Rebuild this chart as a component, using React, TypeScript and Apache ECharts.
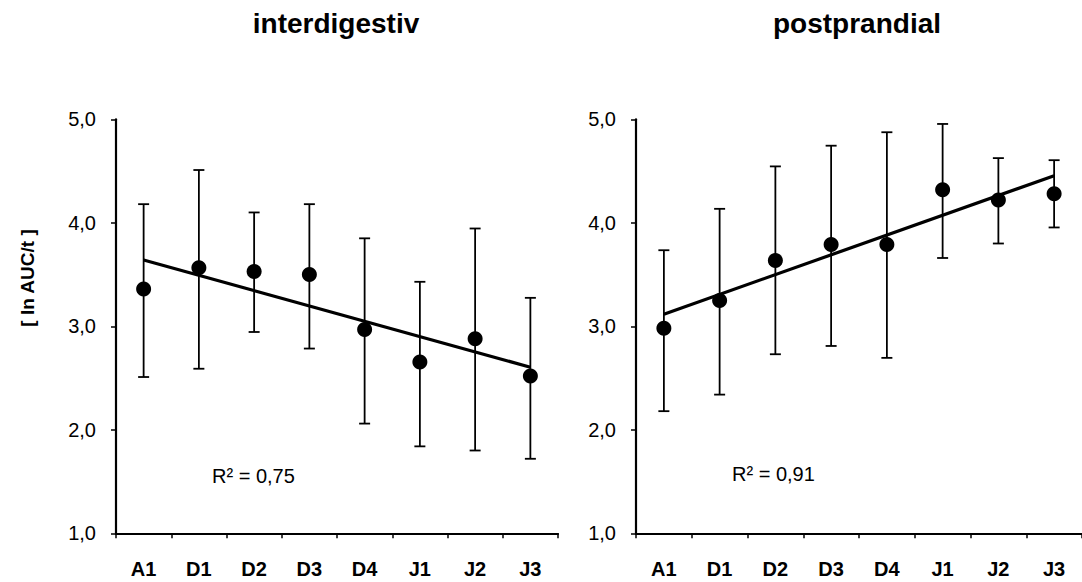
import React, { useEffect, useRef } from "react";
import * as echarts from "echarts";

const categories = ["A1", "D1", "D2", "D3", "D4", "J1", "J2", "J3"];
const yTicks = [1, 2, 3, 4, 5];

// interdigestiv
const interMean = [3.36, 3.565, 3.53, 3.5, 2.97, 2.655, 2.88, 2.52];
const interHigh = [4.18, 4.51, 4.1, 4.18, 3.85, 3.43, 3.945, 3.275];
const interLow = [2.51, 2.59, 2.945, 2.785, 2.06, 1.84, 1.8, 1.72];
const interTrend = [3.64, 2.605]; // trend line at A1 and J3
const interR2 = "R² = 0,75";

// postprandial
const postMean = [2.98, 3.25, 3.635, 3.79, 3.79, 4.32, 4.22, 4.28];
const postHigh = [3.735, 4.135, 4.545, 4.745, 4.875, 4.955, 4.625, 4.605];
const postLow = [2.18, 2.34, 2.73, 2.81, 2.695, 3.66, 3.8, 3.955];
const postTrend = [3.117, 4.455];
const postR2 = "R² = 0,91";

const titles = ["interdigestiv", "postprandial"];
const yLabel = "[ ln AUC/t ]";

const FONT = "'Liberation Sans', Arial, Helvetica, sans-serif";

function errorBars(low: number[], high: number[], idx: number) {
  return {
    type: "custom",
    xAxisIndex: idx,
    yAxisIndex: idx,
    z: 2,
    data: low.map((l, i) => [i, l, high[i]]),
    encode: { x: 0, y: [1, 2] },
    renderItem: (params: any, api: any) => {
      const x = api.value(0);
      const lo = api.coord([x, api.value(1)]);
      const hi = api.coord([x, api.value(2)]);
      const h = 5.5;
      const st = { stroke: "#000", lineWidth: 1.8 };
      return {
        type: "group",
        children: [
          { type: "line", shape: { x1: lo[0], y1: lo[1], x2: hi[0], y2: hi[1] }, style: st },
          { type: "line", shape: { x1: hi[0] - h, y1: hi[1], x2: hi[0] + h, y2: hi[1] }, style: st },
          { type: "line", shape: { x1: lo[0] - h, y1: lo[1], x2: lo[0] + h, y2: lo[1] }, style: st },
        ],
      };
    },
  };
}

function xAxis(idx: number) {
  return {
    type: "category",
    gridIndex: idx,
    data: categories,
    boundaryGap: true,
    axisLine: { show: true, lineStyle: { color: "#000", width: 2.2 } },
    axisTick: { show: true, length: 5, alignWithLabel: false, lineStyle: { color: "#000", width: 1.5 } },
    axisLabel: { color: "#000", fontSize: 20, fontWeight: "bold", fontFamily: FONT, margin: 26 },
    splitLine: { show: false },
  };
}

function yAxis(idx: number) {
  return {
    type: "value",
    gridIndex: idx,
    min: yTicks[0],
    max: yTicks[yTicks.length - 1],
    interval: 1,
    axisLine: { show: true, lineStyle: { color: "#000", width: 2.2 } },
    axisTick: { show: true, length: 5, lineStyle: { color: "#000", width: 1.5 } },
    axisLabel: {
      color: "#000",
      fontSize: 20,
      fontFamily: FONT,
      margin: 20,
      formatter: (v: number) => v.toFixed(1).replace(".", ","),
    },
    splitLine: { show: false },
  };
}

function scatter(data: number[], idx: number) {
  return {
    type: "scatter",
    xAxisIndex: idx,
    yAxisIndex: idx,
    z: 4,
    symbolSize: 15,
    data,
    itemStyle: { color: "#000", opacity: 1 },
    emphasis: { disabled: true },
  };
}

function trend(t: number[], idx: number) {
  return {
    type: "line",
    xAxisIndex: idx,
    yAxisIndex: idx,
    z: 3,
    symbol: "none",
    data: [[0, t[0]], [categories.length - 1, t[1]]],
    lineStyle: { color: "#000", width: 3.2 },
  };
}

export default function App() {
  const ref = useRef<HTMLDivElement>(null);
  useEffect(() => {
    document.body.style.margin = "0";
    if (!ref.current) return;
    const chart = echarts.init(ref.current, null, { renderer: "svg" });
    chart.setOption({
      animation: false,
      backgroundColor: "#fff",
      grid: [
        { left: 116, top: 119.3, width: 442, height: 414, containLabel: false },
        { left: 636, top: 119.3, width: 448, height: 414, containLabel: false },
      ],
      xAxis: [xAxis(0), xAxis(1)],
      yAxis: [yAxis(0), yAxis(1)],
      series: [
        errorBars(interLow, interHigh, 0),
        errorBars(postLow, postHigh, 1),
        trend(interTrend, 0),
        trend(postTrend, 1),
        scatter(interMean, 0),
        scatter(postMean, 1),
      ],
      graphic: [
        {
          type: "text",
          x: 336,
          y: 23.5,
          style: { text: titles[0], fill: "#000", font: `bold 28px ${FONT}`, align: "center", verticalAlign: "middle" },
        },
        {
          type: "text",
          x: 857,
          y: 23.5,
          style: { text: titles[1], fill: "#000", font: `bold 28px ${FONT}`, align: "center", verticalAlign: "middle" },
        },
        {
          type: "text",
          x: 27,
          y: 278,
          rotation: Math.PI / 2,
          style: { text: yLabel, fill: "#000", font: `bold 19px ${FONT}`, align: "center", verticalAlign: "middle" },
        },
        {
          type: "text",
          x: 212,
          y: 476,
          style: { text: interR2, fill: "#000", font: `20px ${FONT}`, align: "left", verticalAlign: "middle" },
        },
        {
          type: "text",
          x: 732,
          y: 474,
          style: { text: postR2, fill: "#000", font: `20px ${FONT}`, align: "left", verticalAlign: "middle" },
        },
      ],
    });
    return () => chart.dispose();
  }, []);
  return <div ref={ref} style={{ width: 1082, height: 582 }} />;
}
